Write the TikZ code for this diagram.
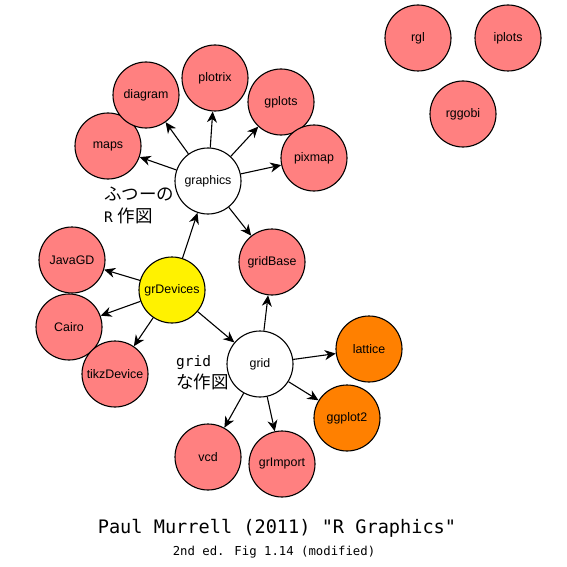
\documentclass[tikz,border=0pt]{standalone}
\usepackage{fontspec}
\setmainfont{Liberation Sans}
\newfontfamily\jpfont{Noto Sans CJK JP}
\newfontfamily\monofont{DejaVu Sans Mono}
\usetikzlibrary{arrows.meta}
\definecolor{pkgpink}{HTML}{FF8080}
\definecolor{pkgorange}{HTML}{FF8000}

\begin{document}
\begin{tikzpicture}[x=1pt, y=-1pt, >={Stealth[length=11pt,width=10pt,inset=3.5pt]},
  pkg/.style={circle, draw, line width=1.1pt, minimum size=66pt, inner sep=0pt,
    font=\fontsize{12.4}{14}\selectfont},
  addon/.style={pkg, fill=pkgpink},
  dep/.style={->, line width=1.1pt}]
  \useasboundingbox (0,0) rectangle (567,567);
  % core packages
  \node[pkg] (graphics) at (208,181) {graphics};
  \node[pkg, fill=yellow] (grDevices) at (172,290) {grDevices};
  \node[pkg] (grid) at (260,364) {grid};
  % traditional graphics
  \node[addon] (maps) at (108,146) {maps};
  \node[addon] (diagram) at (146,95) {diagram};
  \node[addon] (plotrix) at (215,78) {plotrix};
  \node[addon] (gplots) at (281,102) {gplots};
  \node[addon] (pixmap) at (314,158) {pixmap};
  \node[addon] (gridBase) at (272,262) {gridBase};
  % devices
  \node[addon] (JavaGD) at (72,260) {JavaGD};
  \node[addon] (Cairo) at (69,327) {Cairo};
  \node[addon] (tikzDevice) at (115,374) {tikzDevice};
  % grid
  \node[pkg, fill=pkgorange] (lattice) at (369,349) {lattice};
  \node[pkg, fill=pkgorange] (ggplot2) at (347,418) {ggplot2};
  \node[addon] (vcd) at (208,457) {vcd};
  \node[addon] (grImport) at (282,464) {grImport};
  % standalone
  \node[addon] (rgl) at (418,38) {rgl};
  \node[addon] (iplots) at (508,38) {iplots};
  \node[addon] (rggobi) at (463,114) {rggobi};
  % arrows
  \foreach \t in {maps,diagram,plotrix,gplots,pixmap,gridBase}
    \draw[dep] (graphics) -- (\t);
  \foreach \t in {graphics,JavaGD,Cairo,tikzDevice,grid}
    \draw[dep] (grDevices) -- (\t);
  \foreach \t in {gridBase,lattice,ggplot2,grImport,vcd}
    \draw[dep] (grid) -- (\t);
  % labels
  \node[anchor=north west, align=left, inner sep=0pt, font=\fontsize{17.5}{22}\selectfont]
    (tradlbl) at (104,187) {\jpfont ふつーの\\{\monofont\fontsize{14.5}{22}\selectfont R} \jpfont 作図};
  \node[anchor=north west, align=left, inner sep=0pt, font=\fontsize{17.5}{22}\selectfont]
    (gridlbl) at (176,355) {{\monofont\fontsize{14.5}{22}\selectfont grid}\\\jpfont な作図};
  \node[font=\monofont\fontsize{18.6}{22}\selectfont] (title) at (277,528) {Paul Murrell (2011) "R Graphics"};
  \node[font=\monofont\fontsize{12.3}{14}\selectfont] (subtitle) at (274,552) {2nd ed. Fig 1.14 (modified)};
\end{tikzpicture}
\end{document}
